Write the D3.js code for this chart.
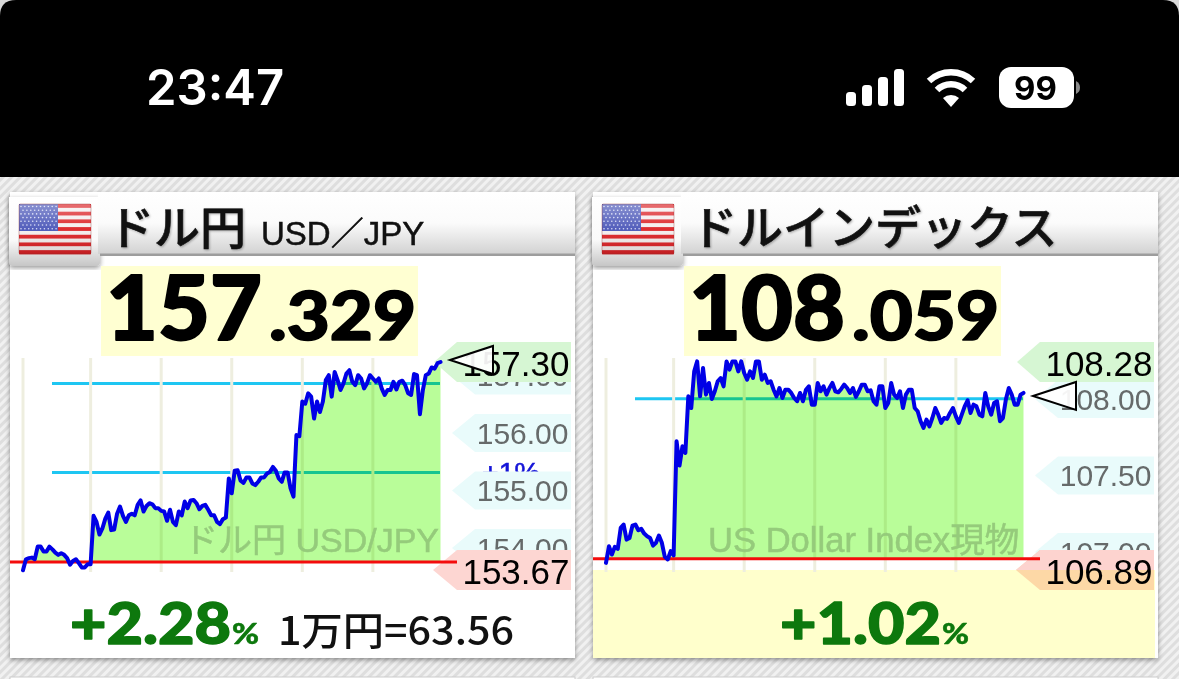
<!DOCTYPE html>
<html><head><meta charset="utf-8">
<style>
html,body{margin:0;padding:0;background:#fff;overflow:hidden}
svg{display:block}
text{font-family:"Liberation Sans","Noto Sans CJK JP",sans-serif}
</style>
<script src="https://cdn.jsdelivr.net/npm/d3@7"></script>
</head><body><svg id="c" width="1179" height="679"></svg>
<script>
const usdjpyValues=[153.52,153.72,153.74,153.75,153.72,153.95,153.95,153.86,153.86,153.95,153.90,153.84,153.80,153.83,153.80,153.74,153.62,153.69,153.72,153.65,153.57,153.57,153.63,153.63,154.51,154.40,154.17,154.28,154.46,154.57,154.25,154.26,154.55,154.68,154.51,154.40,154.52,154.55,154.52,154.71,154.79,154.59,154.69,154.74,154.72,154.65,154.65,154.60,154.59,154.42,154.62,154.40,154.34,154.59,154.52,154.77,154.65,154.79,154.80,154.74,154.63,154.69,154.71,154.62,154.52,154.52,154.40,154.36,154.45,154.48,155.19,154.92,155.33,155.34,155.15,155.11,155.21,155.21,155.10,155.07,155.13,155.21,155.21,155.28,155.31,155.40,155.33,155.19,155.13,155.30,155.30,155.01,154.86,155.98,155.96,156.59,156.55,156.74,156.68,156.28,156.59,156.40,156.59,156.98,157.07,156.68,157.13,156.98,156.80,156.92,157.10,157.16,156.95,156.89,157.07,157.01,156.83,156.92,157.07,157.01,156.95,157.01,156.83,156.71,156.80,156.80,156.95,156.81,156.95,156.97,156.89,156.74,156.71,157.09,157.07,156.36,156.80,157.07,157.10,157.21,157.19,157.29,157.31];
const dxyValues=[106.933,107.041,106.987,107.037,107.024,107.160,107.182,107.084,107.095,107.175,107.182,107.145,107.154,107.123,107.106,107.095,107.045,107.063,107.110,107.063,106.972,106.955,107.009,106.981,107.723,107.565,107.690,107.647,108.015,107.939,108.177,108.242,108.015,108.199,108.026,108.102,107.998,108.048,108.113,108.134,108.080,108.242,108.188,108.242,108.242,108.177,108.242,108.167,108.123,108.177,108.134,108.242,108.242,108.123,108.156,108.102,108.113,108.058,108.015,108.069,108.004,108.058,108.058,108.037,108.004,107.983,108.037,107.983,108.058,108.080,107.961,107.961,108.102,108.048,108.080,108.026,108.069,108.102,108.048,108.041,108.063,108.091,108.069,108.037,108.069,108.011,108.048,108.091,108.091,108.048,108.054,107.983,107.961,108.080,108.080,107.939,107.972,108.102,108.026,108.004,108.048,107.939,108.026,108.058,108.058,107.939,107.918,107.853,107.810,107.864,107.820,107.874,107.939,107.896,107.842,107.874,107.868,107.907,107.939,107.885,107.842,107.896,107.950,107.989,107.907,107.961,107.950,107.896,107.885,108.037,107.950,107.896,107.972,107.983,107.853,107.874,107.994,108.069,108.026,107.961,107.961,108.026,108.037];
const usdjpyTicks=[157,156,155,154];
const dxyTicks=[108,107.5,107];
const gridHours=[0,23,47,71,95,119];
const usdjpyBands=[155.30,156.92];
const dxyBands=[108.00];
const usdjpyBase=153.67, dxyBase=106.96;

const svg=d3.select("#c");
const defs=svg.append("defs");
const hatch=defs.append("pattern").attr("id","hatch").attr("width",6).attr("height",6)
  .attr("patternUnits","userSpaceOnUse").attr("patternTransform","rotate(45)");
hatch.append("rect").attr("width",6).attr("height",6).attr("fill","#f1f1f1");
hatch.append("rect").attr("width",3).attr("height",6).attr("fill","#dedede");
const g1=defs.append("linearGradient").attr("id","bar").attr("x1",0).attr("x2",0).attr("y1",0).attr("y2",1);
g1.append("stop").attr("offset","0%").attr("stop-color","#ffffff");
g1.append("stop").attr("offset","50%").attr("stop-color","#fbfbfb");
g1.append("stop").attr("offset","100%").attr("stop-color","#d2d2d2");
const g2=defs.append("linearGradient").attr("id","tab").attr("x1",0).attr("x2",0).attr("y1",0).attr("y2",1);
g2.append("stop").attr("offset","0%").attr("stop-color","#ffffff");
g2.append("stop").attr("offset","62%").attr("stop-color","#fafafa");
g2.append("stop").attr("offset","100%").attr("stop-color","#c6c6c6");
const g3=defs.append("linearGradient").attr("id","gloss").attr("x1",0).attr("x2",0).attr("y1",0).attr("y2",1);
g3.append("stop").attr("offset","0%").attr("stop-color","#fff").attr("stop-opacity",.35);
g3.append("stop").attr("offset","50%").attr("stop-color","#fff").attr("stop-opacity",.05);
g3.append("stop").attr("offset","100%").attr("stop-color","#000").attr("stop-opacity",.12);
const blur=defs.append("filter").attr("id","sh").attr("x","-5%").attr("y","-5%").attr("width","110%").attr("height","110%");
blur.append("feDropShadow").attr("dx",0).attr("dy",2).attr("stdDeviation",2.5).attr("flood-color","#000").attr("flood-opacity",.4);

// page background + status bar
svg.append("rect").attr("width",1179).attr("height",679).attr("fill","url(#hatch)");
svg.append("rect").attr("width",1179).attr("height",177).attr("fill","#d8d8d8");
svg.append("path").attr("d","M0,177V16Q0,0 16,0H1163Q1179,0 1179,16V177Z").attr("fill","#000");
svg.append("text").attr("x",146).attr("y",105).attr("fill","#fff").attr("font-size",49).attr("font-weight",600)
  .style("font-family","Inter,'Noto Sans',sans-serif").text("23:47");
const signalLevels=[14,21,29,37];
svg.append("g").selectAll("rect").data(signalLevels).join("rect")
  .attr("x",(d,i)=>846+i*16).attr("y",d=>106-d).attr("width",10).attr("height",d=>d).attr("rx",3.5).attr("fill","#fff");
const wifi=svg.append("g").attr("fill","none").attr("stroke","#fff").attr("stroke-width",6.5);
wifi.append("path").attr("d","M929,81A32,32 0 0 1 973,81");
wifi.append("path").attr("d","M937,90A20,20 0 0 1 965,90");
svg.append("path").attr("d","M943,98A12,12 0 0 1 959,98L951,107Z").attr("fill","#fff");
svg.append("rect").attr("x",999).attr("y",67).attr("width",75).attr("height",41).attr("rx",12).attr("fill","#fff");
svg.append("path").attr("d","M1076,81Q1080,83 1080,87.5Q1080,92 1076,94Z").attr("fill","#8a8a8a");
svg.append("text").attr("x",1035.5).attr("y",100).attr("text-anchor","middle").attr("font-size",33).attr("font-weight",700)
  .style("font-family","Inter,'Noto Sans',sans-serif").attr("fill","#000").text("99");

// slivers of the following row of cards
svg.append("rect").attr("x",10).attr("y",677).attr("width",565).attr("height",4).attr("fill","#fff").attr("stroke","#ccc");
svg.append("rect").attr("x",593).attr("y",677).attr("width",565).attr("height",4).attr("fill","#fff").attr("stroke","#ccc");

function drawFlag(g,x,y){
  const stripes=d3.range(13);
  const w=72,h=50;
  g.append("g").selectAll("rect").data(stripes).join("rect")
    .attr("x",x).attr("y",i=>y+i*h/13).attr("width",w).attr("height",h/13+.3)
    .attr("fill",i=>i%2?"#f4eeee":"#dc2226");
  g.append("rect").attr("x",x).attr("y",y).attr("width",39).attr("height",27).attr("fill","#4a56b8");
  const dots=[];
  for(let r=0;r<7;r++)for(let c=0;c<(r%2?9:10);c++)dots.push([x+2+c*3.9+(r%2?2:0),y+2.5+r*3.7]);
  g.append("g").selectAll("circle").data(dots).join("circle")
    .attr("cx",d=>d[0]).attr("cy",d=>d[1]).attr("r",.8).attr("fill","#d8dcf5");
  g.append("rect").attr("x",x).attr("y",y).attr("width",w).attr("height",h).attr("rx",1.5).attr("fill","url(#gloss)")
    .attr("stroke","#8a2a2a").attr("stroke-opacity",.35);
}

function drawCard(o){
  const L=o.left;
  const g=svg.append("g");
  const cardW=o.cardW;
  g.append("rect").attr("x",L).attr("y",192).attr("width",cardW).attr("height",466).attr("fill","#fff").attr("filter","url(#sh)");
  if(o.yellowFoot) g.append("rect").attr("x",L).attr("y",570).attr("width",cardW-3).attr("height",88).attr("fill","#ffffcc");
  g.append("path").attr("d",`M${L-1},197H${L+90}V262Q${L+90},266 ${L+86},266H${L+3}Q${L-1},266 ${L-1},262Z`)
    .attr("fill","url(#tab)").attr("filter","url(#sh)");
  // the title bar runs over the tab's shadow, right of the tab
  g.append("rect").attr("x",L+88).attr("y",192).attr("width",cardW-88).attr("height",62).attr("fill","url(#bar)");
  g.append("rect").attr("x",L+90).attr("y",253.5).attr("width",cardW-90).attr("height",2.5).attr("fill","#9d9d9d");
  drawFlag(g,L+9,204);
  // price box
  g.append("rect").attr("x",L+91).attr("y",266).attr("width",317).attr("height",90).attr("fill","#ffffd2");

  const x=d3.scaleLinear().domain([0,142]).range([L+13,L+430.5]);
  const y=d3.scaleLinear().domain(o.yDomain).range(o.yRange);
  const ly=d3.scaleLinear().domain(o.labelDomain).range(o.labelRange);
  const baseY=y(o.base);

  g.append("g").selectAll("line").data(o.bands).join("line")
    .attr("x1",L+42).attr("x2",L+430).attr("y1",d=>y(d)).attr("y2",d=>y(d))
    .attr("stroke","#1ec6f2").attr("stroke-width",3);
  g.append("g").selectAll("line").data(gridHours).join("line")
    .attr("x1",d=>x(d)).attr("x2",d=>x(d)).attr("y1",358).attr("y2",572)
    .attr("stroke","#eeeedf").attr("stroke-width",3);
  g.append("text").attr("x",L+o.wmX).attr("y",552).attr("font-size",o.wmSize).attr("fill","#cdcdcd")
    .attr("stroke","#cdcdcd").attr("stroke-width",.5).text(o.watermark);

  const clipId="clip"+L;
  defs.append("clipPath").attr("id",clipId).append("rect").attr("x",L).attr("y",300).attr("width",cardW).attr("height",baseY-300);
  const area=d3.area().x((d,i)=>x(i)).y0(baseY).y1(d=>y(d));
  g.append("path").datum(o.values).attr("d",area).attr("fill","#b9fd99").attr("clip-path",`url(#${clipId})`)
    .style("mix-blend-mode","multiply");

  // right-hand flags
  const flag=(cy,h,tipX,bodyX,right)=>`M${tipX},${cy}L${bodyX},${cy-h}H${right}V${cy+h}H${bodyX}Z`;
  if(o.pctNote) g.append("text").attr("x",L+472).attr("y",482).attr("font-size",28.5).attr("fill","#1414d8")
    .attr("stroke","#1414d8").attr("stroke-width",.6).text(o.pctNote);
  const ticks=g.append("g").selectAll("g").data(o.ticks).join("g");
  ticks.append("path").attr("d",d=>flag(ly(d),19,L+442,L+465,L+561)).attr("fill","#e9fbfb");
  ticks.append("text").attr("x",L+558.5).attr("y",d=>ly(d)+10.8).attr("text-anchor","end").attr("font-size",30).attr("fill","#666a6a")
    .text(d=>d3.format(".2f")(d));

  // high / low flags
  g.append("path").attr("d",flag(362,20,L+424,L+447,L+561)).attr("fill","#d6f6d3");
  g.append("text").attr("x",L+559.5).attr("y",376).attr("text-anchor","end").attr("font-size",35).attr("fill","#000").text(o.high);

  g.append("path").attr("d",flag(570,20,L+423,L+447,L+561)).attr("fill",o.yellowFoot?"#fdd8a6":"#fdd6d2");
  if(o.yellowFoot) g.append("path").attr("d",`M${L+447},550H${L+561}V570H${L+423}Z`).attr("fill","#fdd3cf");
  g.append("text").attr("x",L+559.5).attr("y",584).attr("text-anchor","end").attr("font-size",35).attr("fill","#000").text(o.low);

  g.append("line").attr("x1",L).attr("x2",L+447).attr("y1",baseY).attr("y2",baseY).attr("stroke","#f40c0c").attr("stroke-width",3);
  const line=d3.line().x((d,i)=>x(i)).y(d=>y(d));
  g.append("path").datum(o.values).attr("d",line).attr("fill","none").attr("stroke","#0000e6").attr("stroke-width",4).attr("stroke-linejoin","round").attr("stroke-linecap","round");

  // current price marker
  const last=o.values[o.values.length-1];
  const my=y(last)+o.markerDy;
  g.append("path").attr("d",`M${x(142)+9.5},${my}L${x(142)+52.5},${my-14}V${my+14}Z`)
    .attr("fill","#fff").attr("fill-opacity",.93).attr("stroke","#000").attr("stroke-width",2);

  // titles
  g.append("text").attr("x",L+98).attr("y",244).attr("font-size",46).attr("font-weight",500)
    .style("font-family","'Noto Sans CJK JP'").attr("fill","#111").attr("stroke","#111").attr("stroke-width",.6)
    .style("filter","drop-shadow(1px 1px 1px rgba(0,0,0,.3))").text(o.title);
  if(o.subtitle) g.append("text").attr("x",L+251).attr("y",245).attr("font-size",33)
    .attr("fill","#111").attr("stroke","#111").attr("stroke-width",.5).text(o.subtitle);

  // price
  const pf="Lato,'Noto Sans',sans-serif";
  const heavy=(sel,c,w)=>sel.style("font-family",pf).attr("font-weight",900).attr("fill",c).attr("stroke",c).attr("stroke-width",w)
    .attr("stroke-linejoin","round").attr("lengthAdjust","spacingAndGlyphs");
  heavy(g.append("text").attr("x",L+96).attr("y",340).attr("font-size",89).attr("textLength",156).text(o.priceInt),"#000",2);
  heavy(g.append("text").attr("x",L+259).attr("y",340).attr("font-size",66).attr("textLength",147).text(o.priceDec),"#000",1.6);

  // change
  heavy(g.append("text").attr("x",L+o.chgX).attr("y",644).attr("font-size",57).attr("textLength",161).text(o.change),"#0d780d",1.4);
  heavy(g.append("text").attr("x",L+o.chgX+162).attr("y",644).attr("font-size",28).attr("textLength",27).text("%"),"#0d780d",.5);
  if(o.extra) g.append("text").attr("x",L+268).attr("y",645).attr("font-size",39).attr("font-weight",500)
    .style("font-family","'Noto Sans CJK JP'").attr("fill","#111")
    .attr("textLength",236).attr("lengthAdjust","spacingAndGlyphs").text(o.extra);
}

drawCard({left:10,cardW:565,values:usdjpyValues,ticks:usdjpyTicks,bands:usdjpyBands,base:usdjpyBase,
  yDomain:[153.67,157.31],yRange:[562,362],labelDomain:[154,157],labelRange:[548,375.5],
  watermark:"ドル円 USD/JPY",wmX:174,wmSize:34,pctNote:"+1%",high:"157.30",low:"153.67",
  title:"ドル円",subtitle:"USD／JPY",priceInt:"157",priceDec:".329",change:"+2.28",chgX:60,extra:"1万円=63.56",markerDy:-2});
drawCard({left:593,cardW:565,values:dxyValues,ticks:dxyTicks,bands:dxyBands,base:dxyBase,
  yDomain:[106.96,108.24],yRange:[558.7,361.7],labelDomain:[107,108],labelRange:[552,399],
  watermark:"US Dollar Index現物",wmX:115,wmSize:34.6,pctNote:null,high:"108.28",low:"106.89",yellowFoot:true,
  title:"ドルインデックス",subtitle:null,priceInt:"108",priceDec:".059",change:"+1.02",chgX:187,extra:null,markerDy:3});
</script></body></html>
